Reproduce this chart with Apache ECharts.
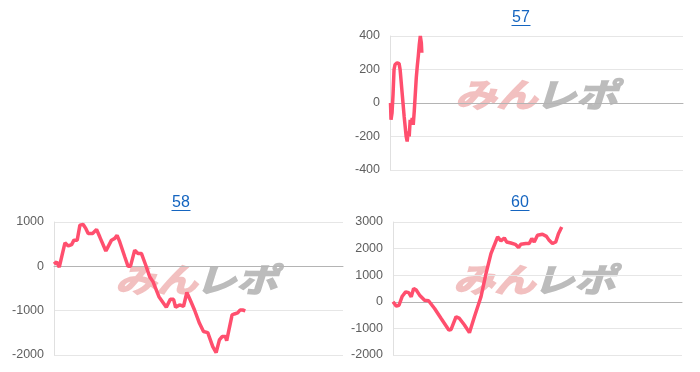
<!DOCTYPE html>
<html><head><meta charset="utf-8">
<script src="https://cdn.jsdelivr.net/npm/echarts@6/dist/echarts.min.js"></script>
<style>html,body{margin:0;padding:0;background:#fff}#c{width:700px;height:372px}</style>
</head><body><div id="c"></div>
<script>
// Panel titles
const titles = ['57', '58', '60'];
// Y-axis ranges (min, max, interval) per panel
const yRange57 = [-400, 400, 200];
const yRange58 = [-2000, 1000, 1000];
const yRange60 = [-2000, 3000, 1000];
// X span (game index) common to all panels
const xMax = 290;

// Panel 57
const p57x = [0.5, 1, 2, 3, 4, 5, 7, 9, 10, 12, 14, 16, 17, 18, 19, 20, 21, 22, 23, 24, 26, 27, 28, 29, 30, 31, 31.5];
const p57y = [0, -100, -60, 50, 200, 230, 240, 235, 200, 60, -80, -200, -230, -170, -200, -100, -130, -90, -130, -50, 150, 220, 280, 350, 400, 360, 300];

// Panel 58
const p58x = [0, 2.7, 5.3, 7.7, 11, 14.3, 17.7, 20, 23.3, 26, 29.3, 32, 34.3, 38.7, 42.7, 46, 52, 53.3, 57.7, 61, 63.3, 66, 71, 74.3, 76.7, 81, 84.3, 87.7, 92, 96, 99.3, 105.3, 112.7, 116.7, 120, 122, 126, 130, 133.3, 136.7, 141, 146, 150, 154.3, 159.3, 162.7, 166, 168.7, 172, 173.3, 178.7, 181, 184.3, 186.7, 189.3, 192];
const p58y = [50, 100, -20, 215, 530, 460, 490, 590, 590, 930, 945, 850, 740, 740, 830, 660, 345, 400, 590, 630, 700, 550, 215, 0, 0, 365, 290, 290, 30, -235, -345, -685, -925, -745, -745, -925, -870, -900, -590, -760, -985, -1285, -1470, -1495, -1810, -1945, -1660, -1585, -1585, -1675, -1095, -1075, -1050, -985, -985, -1005];

// Panel 60
const p60x = [0, 3.3, 6, 9.3, 12.7, 15.7, 18.3, 20.7, 23.3, 26.7, 31.7, 35.7, 41.7, 48.3, 56, 58.3, 63.3, 66.7, 71.7, 76.7, 81.7, 88.3, 93.3, 98.3, 105, 108.3, 111.7, 114, 118.3, 122.7, 126, 128.3, 133.3, 136.7, 139.3, 141.7, 145, 150, 154, 156.7, 160, 163.3, 166, 169.3];
const p60y = [0, -160, -130, 210, 375, 345, 190, 500, 440, 250, 60, 40, -250, -625, -1060, -1040, -560, -625, -875, -1160, -560, 190, 1060, 1810, 2440, 2290, 2400, 2250, 2210, 2160, 2040, 2160, 2190, 2190, 2375, 2250, 2500, 2540, 2460, 2310, 2190, 2250, 2560, 2810];

const zip = (xs, ys) => xs.map((x, i) => [x, ys[i]]);
const lineColor = '#ff4f6e';
const grids = [
  {left: 390, right: 17, top: 36, bottom: 202},
  {left: 54, right: 357, top: 222, bottom: 17},
  {left: 393, right: 18, top: 222, bottom: 17}
];
const ranges = [yRange57, yRange58, yRange60];
const datas = [zip(p57x, p57y), zip(p58x, p58y), zip(p60x, p60y)];
const titlePos = [[521, 18], [181, 203], [520, 203]];
const markPos = [[455, 94], [115, 279], [453, 279]];

const xAxes = grids.map((g, i) => ({
  type: 'value', gridIndex: i, min: 0, max: xMax,
  axisLine: {show: true, onZero: true, lineStyle: {color: '#b4b4b4', width: 1}},
  axisTick: {show: false}, axisLabel: {show: false}, splitLine: {show: false}
}));
const yAxes = ranges.map((r, i) => ({
  type: 'value', gridIndex: i, min: r[0], max: r[1], interval: r[2],
  axisLine: {show: true, lineStyle: {color: '#e0e0e0'}},
  axisTick: {show: false},
  axisLabel: {color: '#5f5f5f', fontSize: 12.5, margin: 10, fontFamily: 'Liberation Sans, Arial, sans-serif', formatter: (v) => String(v)},
  splitLine: {lineStyle: {color: '#e6e6e6'}}
}));
const series = datas.map((d, i) => ({
  type: 'line', xAxisIndex: i, yAxisIndex: i, data: d, showSymbol: false,
  lineStyle: {color: lineColor, width: 3.5}, itemStyle: {color: lineColor}, z: 5, animation: false
}));

const graphic = [];
titlePos.forEach((p, i) => {
  graphic.push({type: 'text', x: p[0], y: p[1], style: {text: titles[i], fill: '#1565c0', font: '16px "Liberation Sans", Arial, sans-serif', textAlign: 'center', textVerticalAlign: 'middle'}});
  graphic.push({type: 'line', shape: {x1: p[0] - 9.5, y1: p[1] + 7.5, x2: p[0] + 9.5, y2: p[1] + 7.5}, style: {stroke: '#1565c0', lineWidth: 1}});
});
markPos.forEach((p) => {
  graphic.push({type: 'text', x: p[0], y: p[1], scaleX: 1.25, z: -1, style: {text: 'みん', fill: '#f2c0c0', stroke: '#f2c0c0', lineWidth: 1.5, font: 'italic bold 33px "Noto Sans CJK JP"', textVerticalAlign: 'middle'}});
  graphic.push({type: 'text', x: p[0] + 80, y: p[1], scaleX: 1.25, z: -1, style: {text: 'レポ', fill: '#bcbcbc', stroke: '#bcbcbc', lineWidth: 1.5, font: 'italic bold 33px "Noto Sans CJK JP"', textVerticalAlign: 'middle'}});
});

const chart = echarts.init(document.getElementById('c'), null, {renderer: 'canvas'});
chart.setOption({
  animation: false,
  grid: grids,
  xAxis: xAxes,
  yAxis: yAxes,
  series: series,
  graphic: graphic
});
</script></body></html>
